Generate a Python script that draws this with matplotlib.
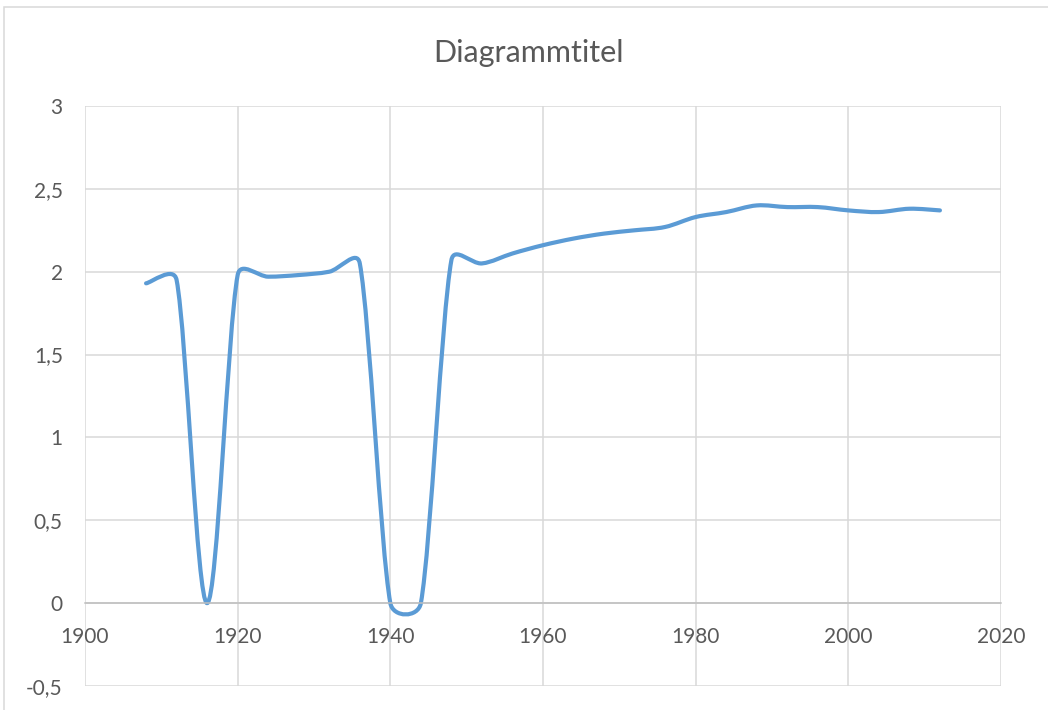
import numpy as np
import matplotlib.pyplot as plt
from matplotlib.path import Path
from matplotlib.patches import PathPatch, Rectangle
from matplotlib.ticker import FixedLocator, FuncFormatter

# Excel-style smoothed line chart
years = [1908, 1912, 1916, 1920, 1924, 1928, 1932, 1936, 1940, 1944, 1948,
         1952, 1956, 1960, 1964, 1968, 1972, 1976, 1980, 1984, 1988, 1992,
         1996, 2000, 2004, 2008, 2012]
values = [1.93, 1.95, 0.0, 1.98, 1.97, 1.98, 2.00, 2.05, 0.0, 0.0, 2.07,
          2.05, 2.11, 2.16, 2.20, 2.23, 2.25, 2.27, 2.33, 2.36, 2.40, 2.39,
          2.39, 2.37, 2.36, 2.38, 2.37]
x_ticks = [1900, 1920, 1940, 1960, 1980, 2000, 2020]
y_ticks = [-0.5, 0, 0.5, 1, 1.5, 2, 2.5, 3]

plt.rcParams['font.family'] = ['Lato', 'DejaVu Sans']
txt_col = '#595959'
grid_col = '#d9d9d9'

fig = plt.figure(figsize=(10.48, 7.10), dpi=100)
ax = fig.add_axes([85 / 1048, 24 / 710, 916 / 1048, 580 / 710])
ax.set_xlim(1900, 2020)
ax.set_ylim(-0.5, 3)

ax.xaxis.set_major_locator(FixedLocator(x_ticks))
ax.yaxis.set_major_locator(FixedLocator(y_ticks))
ax.yaxis.set_major_formatter(FuncFormatter(lambda v, p: f'{v:g}'.replace('.', ',')))
ax.grid(True, color=grid_col, linewidth=1.1)
ax.set_axisbelow(True)
for s in ['top', 'right', 'left']:
    ax.spines[s].set_visible(False)
ax.spines['bottom'].set_position(('data', 0))
ax.spines['bottom'].set_color('#bfbfbf')
ax.spines['bottom'].set_linewidth(1.1)
ax.tick_params(axis='x', length=0, pad=17, labelsize=15, colors=txt_col)
ax.tick_params(axis='y', length=0, pad=16, labelsize=15, colors=txt_col)

# title, baseline placed like the original
fig.text(529 / 1048, 1 - 62 / 710, 'Diagrammtitel', fontsize=22, color=txt_col,
         ha='center', va='baseline')

# smoothing like Excel: bezier segments, arms capped at half the segment (pixel space)
pts = ax.transData.transform(np.column_stack([years, values]))
n = len(pts)
verts = [pts[0]]
codes = [Path.MOVETO]
for i in range(n - 1):
    p0 = pts[max(i - 1, 0)]
    p1 = pts[i]
    p2 = pts[i + 1]
    p3 = pts[min(i + 2, n - 1)]
    d12 = np.hypot(*(p2 - p1))
    d02 = np.hypot(*(p2 - p0))
    d13 = np.hypot(*(p3 - p1))
    f1 = 1 / 6 if d02 / 6 < d12 / 2 else d12 / 2 / d02
    f2 = 1 / 6 if d13 / 6 < d12 / 2 else d12 / 2 / d13
    b1 = p1 + (p2 - p0) * f1
    b2 = p2 - (p3 - p1) * f2
    verts += [b1, b2, p2]
    codes += [Path.CURVE4] * 3
verts = ax.transData.inverted().transform(np.array(verts))
ax.add_patch(PathPatch(Path(verts, codes), fill=False, edgecolor='#5b9bd5',
                       linewidth=3.0, capstyle='round', joinstyle='round'))

# chart area border
fig.patches.append(Rectangle((4 / 1048, -0.01), 1.0, (710 - 7) / 710 + 0.01,
                             transform=fig.transFigure, fill=False,
                             edgecolor=grid_col, linewidth=1.1))

fig.savefig('out.png', dpi=100)
